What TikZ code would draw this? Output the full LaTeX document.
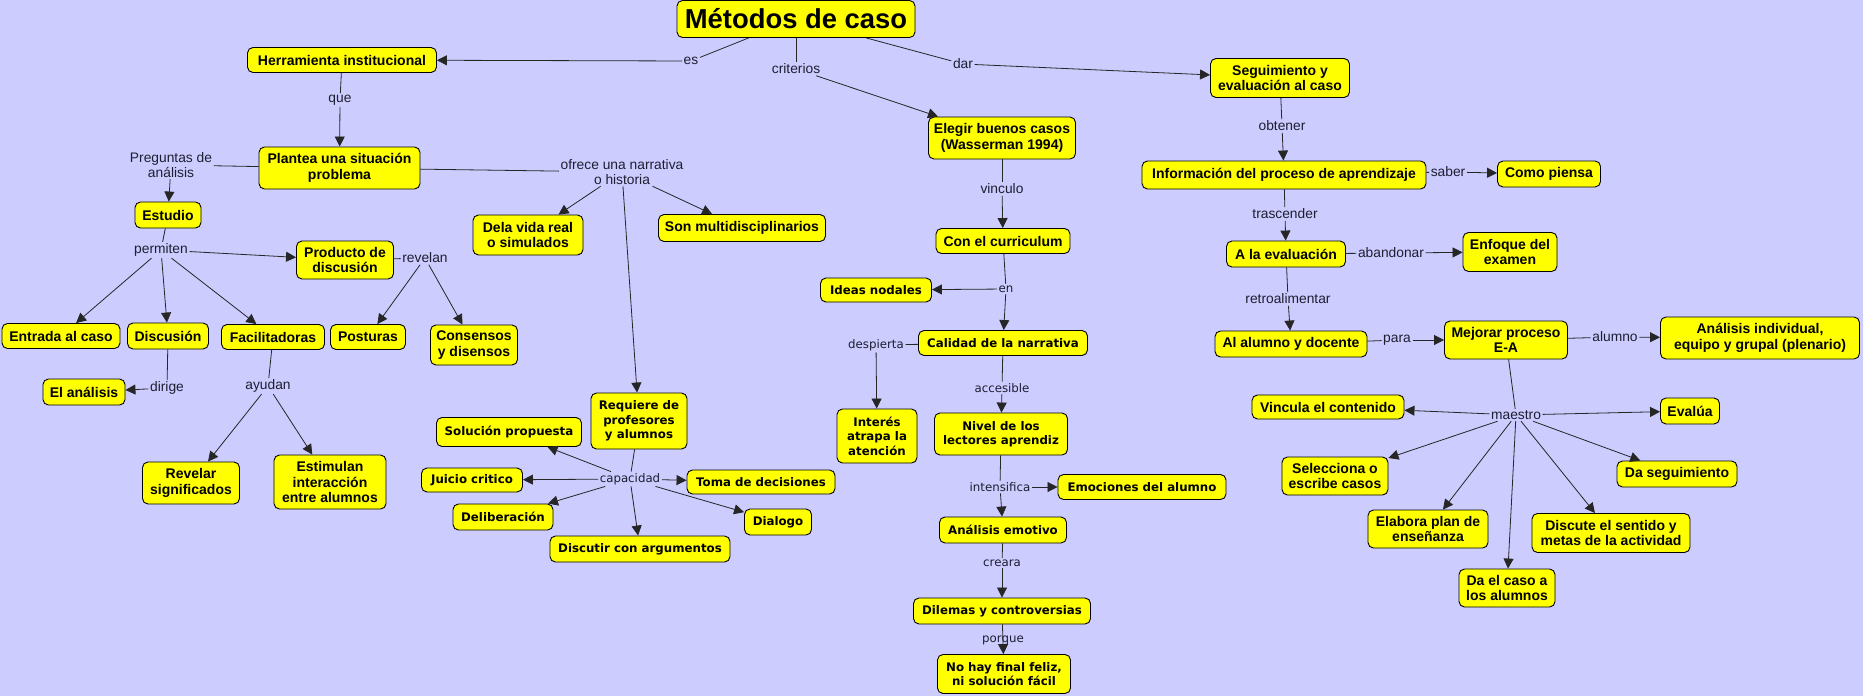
\documentclass[tikz,border=0pt]{standalone}
\usepackage{fontspec}
\setmainfont{Liberation Sans}
\newfontfamily\vfont{DejaVu Sans}
\usetikzlibrary{arrows.meta}
\definecolor{bgc}{RGB}{204,204,255}
\definecolor{boxc}{RGB}{255,255,0}
\definecolor{labc}{RGB}{30,30,50}
\begin{document}
\begin{tikzpicture}[x=1pt,y=-1pt,
 cbox/.style={draw=black,fill=boxc,rounded corners=5.5pt,line width=0.9pt,align=center,inner sep=0pt},
 tb/.style={cbox,font=\bfseries\fontsize{14}{15.5}\selectfont},
 vb/.style={cbox,font=\vfont\bfseries\fontsize{11.8}{14.5}\selectfont},
 sz/.style 2 args={minimum width=#1pt,minimum height=#2pt},
 tl/.style={font=\fontsize{13.8}{15}\selectfont,text=labc,inner sep=1.5pt,align=center},
 vl/.style={font=\vfont\fontsize{11.8}{14}\selectfont,text=labc,inner sep=1.5pt,align=center},
 ln/.style={draw=black!85,line width=0.8pt},
 ar/.style={ln,-{Triangle[length=10pt,width=10pt]}}]
\fill[bgc] (0,0) rectangle (1863,696);
\useasboundingbox (0,0) rectangle (1863,696);
% concepts
\node[tb,sz={238}{37},font=\bfseries\fontsize{27.4}{30}\selectfont] (title) at (796,19) {Métodos de caso};
\node[tb,sz={189}{25}] (herr) at (342,60) {Herramienta institucional};
\node[tb,sz={161}{42}] (plan) at (339.5,168) {Plantea una situación\\problema};
\node[tb,sz={66}{26}] (estu) at (168,215) {Estudio};
\node[tb,sz={97}{38}] (prod) at (345,260) {Producto de\\discusión};
\node[tb,sz={118}{25}] (entr) at (61,336) {Entrada al caso};
\node[tb,sz={81}{26}] (disc) at (168,336) {Discusión};
\node[tb,sz={103}{25}] (faci) at (273,337) {Facilitadoras};
\node[tb,sz={75}{25}] (post) at (368,337) {Posturas};
\node[tb,sz={87}{40}] (cons) at (474,345) {Consensos\\y disensos};
\node[tb,sz={82}{26}] (anal) at (84,392) {El análisis};
\node[tb,sz={97}{42}] (reve) at (191,483) {Revelar\\significados};
\node[tb,sz={112}{54}] (esti) at (330,482) {Estimulan\\interacción\\entre alumnos};
\node[tb,sz={110}{40}] (dela) at (528,235) {Dela vida real\\o simulados};
\node[tb,sz={167}{27}] (sonm) at (742,228) {Son multidisciplinarios};
\node[vb,sz={96}{56}] (requ) at (639,421) {Requiere de\\profesores\\y alumnos};
\node[vb,sz={145}{29}] (solu) at (509,432) {Solución propuesta};
\node[vb,sz={101}{24}] (juic) at (472,480) {Juicio critico};
\node[vb,sz={148}{24}] (toma) at (761,482) {Toma de decisiones};
\node[vb,sz={100}{26}] (deli) at (503,517) {Deliberación};
\node[vb,sz={67}{26}] (dial) at (778,522) {Dialogo};
\node[vb,sz={180}{26}] (disa) at (640,549) {Discutir con argumentos};
\node[tb,sz={147}{42}] (eleg) at (1002,138) {Elegir buenos casos\\(Wasserman 1994)};
\node[tb,sz={134}{25}] (conc) at (1003,241) {Con el curriculum};
\node[vb,sz={111}{24}] (idea) at (876,290) {Ideas nodales};
\node[vb,sz={169}{25}] (cali) at (1003,343) {Calidad de la narrativa};
\node[vb,sz={80}{54}] (inte) at (877,436) {Interés\\atrapa la\\atención};
\node[vb,sz={133}{42}] (nive) at (1001,434) {Nivel de los\\lectores aprendiz};
\node[vb,sz={168}{25}] (emoc) at (1142,487) {Emociones del alumno};
\node[vb,sz={127}{26}] (anem) at (1003,530) {Análisis emotivo};
\node[vb,sz={177}{26}] (dile) at (1002,611) {Dilemas y controversias};
\node[vb,sz={133}{39}] (noha) at (1004,674) {No hay final feliz,\\ni solución fácil};
\node[tb,sz={139}{39}] (segu) at (1280,78) {Seguimiento y\\evaluación al caso};
\node[tb,sz={284}{28}] (info) at (1284,175) {Información del proceso de aprendizaje};
\node[tb,sz={103}{26}] (como) at (1549,174) {Como piensa};
\node[tb,sz={119}{26}] (alae) at (1286,254) {A la evaluación};
\node[tb,sz={94}{39}] (enfo) at (1510,252) {Enfoque del\\examen};
\node[tb,sz={152}{26}] (alal) at (1291,344) {Al alumno y docente};
\node[tb,sz={123}{38}] (mejo) at (1506,340) {Mejorar proceso\\E-A};
\node[tb,sz={199}{42}] (anin) at (1760,338) {Análisis individual,\\equipo y grupal (plenario)};
\node[tb,sz={152}{24}] (vinc) at (1328,407) {Vincula el contenido};
\node[tb,sz={59}{26}] (eval) at (1690,411) {Evalúa};
\node[tb,sz={106}{38}] (sele) at (1335,476) {Selecciona o\\escribe casos};
\node[tb,sz={120}{26}] (dseg) at (1677,474) {Da seguimiento};
\node[tb,sz={120}{38}] (elab) at (1428,529) {Elabora plan de\\enseñanza};
\node[tb,sz={158}{39}] (disu) at (1611,533) {Discute el sentido y\\metas de la actividad};
\node[tb,sz={96}{38}] (dcas) at (1507,588) {Da el caso a\\los alumnos};
% link labels
\node[tl] (les) at (691,61) {es};
\node[tl] (lque) at (340,100) {que};
\node[tl] (lpreg) at (171,165) {Preguntas de\\análisis};
\node[tl] (lofre) at (622,172) {ofrece una narrativa\\o historia};
\node[tl] (lcrit) at (796,69) {criterios};
\node[tl] (ldar) at (963,64) {dar};
\node[tl] (lperm) at (161,250) {permiten};
\node[tl] (lrev) at (425,258) {revelan};
\node[tl] (ldir) at (167,388) {dirige};
\node[tl] (layu) at (268,386) {ayudan};
\node[vl] (lcap) at (630,479) {capacidad};
\node[tl] (lvin) at (1002,189) {vinculo};
\node[vl] (len) at (1006,289) {en};
\node[vl] (ldes) at (876,345) {despierta};
\node[vl] (lacc) at (1002,388) {accesible};
\node[vl] (lint) at (1000,487) {intensifica};
\node[vl] (lcre) at (1002,563) {creara};
\node[tl] (lobt) at (1282,126) {obtener};
\node[tl] (lsab) at (1448,172) {saber};
\node[tl] (ltra) at (1285,214) {trascender};
\node[tl] (laba) at (1391,253) {abandonar};
\node[tl] (lret) at (1288,299) {retroalimentar};
\node[tl] (lpar) at (1397,340) {para};
\node[tl] (lalu) at (1615,337) {alumno};
\node[tl] (lmae) at (1516,415) {maestro};
% connectors
\draw[ln] (title) -- (les); \draw[ar] (les) -- (herr);
\draw[ln] (title) -- (lcrit); \draw[ar] (lcrit) -- (eleg);
\draw[ln] (title) -- (ldar); \draw[ar] (ldar) -- (segu);
\draw[ln] (herr) -- (lque); \draw[ar] (lque) -- (plan);
\draw[ln] (plan) -- (lpreg); \draw[ar] (lpreg) -- (estu);
\draw[ln] (plan) -- (lofre);
\draw[ar] (lofre) -- (dela); \draw[ar] (lofre) -- (sonm); \draw[ar] (lofre) -- (requ);
\draw[ln] (estu) -- (lperm);
\draw[ar] (lperm) -- (prod); \draw[ar] (lperm) -- (entr); \draw[ar] (lperm) -- (disc); \draw[ar] (lperm) -- (faci);
\draw[ln] (prod) -- (lrev); \draw[ar] (lrev) -- (post); \draw[ar] (lrev) -- (cons);
\draw[ln] (disc) -- (ldir); \draw[ar] (ldir) -- (anal);
\draw[ln] (faci) -- (layu); \draw[ar] (layu) -- (reve); \draw[ar] (layu) -- (esti);
\draw[ln] (requ) -- (lcap);
\draw[ar] (lcap) -- (solu); \draw[ar] (lcap) -- (juic); \draw[ar] (lcap) -- (toma);
\draw[ar] (lcap) -- (deli); \draw[ar] (lcap) -- (dial); \draw[ar] (lcap) -- (disa);
\draw[ln] (eleg) -- (lvin); \draw[ar] (lvin) -- (conc);
\draw[ln] (conc) -- (len); \draw[ar] (len) -- (idea); \draw[ar] (len) -- (cali);
\draw[ln] (cali) -- (ldes); \draw[ar] (ldes) -- (inte);
\draw[ln] (cali) -- (lacc); \draw[ar] (lacc) -- (nive);
\draw[ln] (nive) -- (lint); \draw[ar] (lint) -- (emoc); \draw[ar] (lint) -- (anem);
\draw[ln] (anem) -- (lcre); \draw[ar] (lcre) -- (dile);
\draw[ar] (dile) -- (noha);
\node[vl] (lpor) at (1003,640) {porque};
\draw[ln] (segu) -- (lobt); \draw[ar] (lobt) -- (info);
\draw[ln] (info) -- (lsab); \draw[ar] (lsab) -- (como);
\draw[ln] (info) -- (ltra); \draw[ar] (ltra) -- (alae);
\draw[ln] (alae) -- (laba); \draw[ar] (laba) -- (enfo);
\draw[ln] (alae) -- (lret); \draw[ar] (lret) -- (alal);
\draw[ln] (alal) -- (lpar); \draw[ar] (lpar) -- (mejo);
\draw[ln] (mejo) -- (lalu); \draw[ar] (lalu) -- (anin);
\draw[ln] (mejo) -- (lmae);
\draw[ar] (lmae) -- (vinc); \draw[ar] (lmae) -- (eval); \draw[ar] (lmae) -- (sele);
\draw[ar] (lmae) -- (dseg); \draw[ar] (lmae) -- (elab); \draw[ar] (lmae) -- (disu);
\draw[ar] (lmae) -- (dcas);
\end{tikzpicture}
\end{document}
